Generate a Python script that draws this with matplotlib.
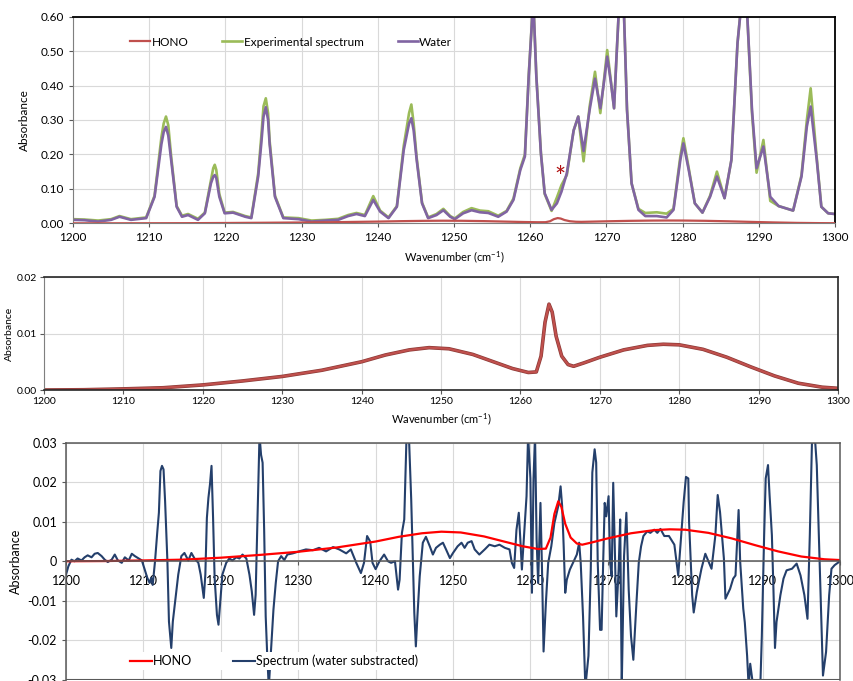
import numpy as np
import matplotlib.pyplot as plt

plt.rcParams['font.family'] = ['Lato', 'DejaVu Sans']
plt.rcParams['mathtext.default'] = 'regular'

# ---- top panel: experimental spectrum and water reference ----
wn_top = [1200, 1201.5, 1203.3, 1205, 1206.1, 1207.6, 1209.6, 1210.7, 1211.6, 1211.9, 1212.2, 1212.5,
          1212.9, 1213.6, 1214.3, 1215.1, 1216.4, 1217.3, 1218.1, 1218.4, 1218.6, 1218.8, 1219.2,
          1219.9, 1221.0,
          1222.6, 1223.4, 1224.3, 1224.7, 1225.0, 1225.3, 1225.6, 1225.8, 1226.5, 1227.6, 1229.6,
          1231.3, 1233.1, 1234.8, 1236.1, 1237.2, 1238.3, 1239.4, 1240.3, 1241.4, 1242.5, 1243.4,
          1244.1, 1244.4, 1244.7, 1245.1, 1245.8, 1246.6, 1247.7, 1248.6, 1249.5, 1250.1, 1251.2,
          1252.3, 1253.4, 1254.5, 1255.8, 1256.9, 1257.8, 1258.7, 1259.3, 1259.8, 1260.4, 1260.8,
          1261.4, 1261.9, 1262.8, 1263.5, 1264.1, 1264.8, 1265.7, 1266.3, 1267.0, 1267.8, 1268.5,
          1269.2, 1269.6, 1270.1, 1270.6, 1271.0, 1271.3, 1271.7, 1272.2, 1272.7, 1273.3, 1274.2,
          1275.1, 1276.6, 1277.9, 1278.8, 1279.7, 1280.1, 1280.8, 1281.6, 1282.6, 1283.6, 1284.5,
          1285.5, 1286.4, 1287.2, 1287.8, 1288.4, 1289.1, 1289.7, 1290.6, 1291.5, 1292.6, 1294.5,
          1295.6, 1296.3, 1296.8, 1297.6, 1298.2, 1299.1, 1300]
water = [0.010, 0.009, 0.005, 0.010, 0.019, 0.010, 0.015, 0.077, 0.23, 0.265, 0.28, 0.255,
         0.18, 0.048, 0.019, 0.024, 0.010, 0.029, 0.116, 0.135, 0.14, 0.132, 0.077,
         0.029, 0.031,
         0.019, 0.015, 0.136, 0.23, 0.31, 0.337, 0.30, 0.23, 0.077, 0.015, 0.012,
         0.005, 0.008, 0.010, 0.021, 0.027, 0.021, 0.068, 0.034, 0.015, 0.048, 0.213,
         0.29, 0.305, 0.27, 0.184, 0.058, 0.015, 0.024, 0.038, 0.019, 0.012, 0.029,
         0.038, 0.032, 0.030, 0.019, 0.034, 0.068, 0.155, 0.194, 0.426, 0.65, 0.426,
         0.203, 0.087, 0.039, 0.058, 0.092, 0.145, 0.27, 0.31, 0.21, 0.33, 0.42,
         0.334, 0.397, 0.484, 0.407, 0.334, 0.474, 0.65, 0.68, 0.33, 0.116, 0.039,
         0.021, 0.021, 0.017, 0.039, 0.184, 0.232, 0.155, 0.058, 0.031, 0.077, 0.136,
         0.073, 0.184, 0.523, 0.66, 0.64, 0.33, 0.16, 0.223, 0.077, 0.05, 0.037,
         0.136, 0.281, 0.339, 0.184, 0.048, 0.029, 0.027]
experimental = [0.012, 0.011, 0.008, 0.012, 0.021, 0.012, 0.017, 0.080, 0.25, 0.29, 0.31, 0.285,
                0.19, 0.050, 0.022, 0.027, 0.013, 0.031, 0.125, 0.16, 0.17, 0.155, 0.085,
                0.031, 0.033,
                0.021, 0.017, 0.145, 0.25, 0.34, 0.363, 0.32, 0.24, 0.080, 0.017, 0.015,
                0.008, 0.010, 0.013, 0.024, 0.030, 0.024, 0.079, 0.037, 0.017, 0.050, 0.225,
                0.32, 0.345, 0.29, 0.19, 0.060, 0.017, 0.027, 0.042, 0.021, 0.014, 0.033,
                0.044, 0.037, 0.035, 0.022, 0.036, 0.072, 0.16, 0.20, 0.43, 0.65, 0.43,
                0.205, 0.085, 0.036, 0.075, 0.111, 0.14, 0.27, 0.31, 0.18, 0.34, 0.44,
                0.32, 0.40, 0.503, 0.41, 0.334, 0.474, 0.65, 0.68, 0.33, 0.116, 0.042,
                0.030, 0.032, 0.028, 0.042, 0.195, 0.247, 0.16, 0.058, 0.031, 0.080, 0.15,
                0.073, 0.184, 0.523, 0.66, 0.64, 0.32, 0.147, 0.242, 0.065, 0.05, 0.037,
                0.14, 0.30, 0.392, 0.19, 0.048, 0.029, 0.027]

# ---- HONO reference cross-section ----
wn_hono = [1200, 1205, 1210, 1215, 1220, 1225, 1230, 1235, 1240, 1243, 1246, 1248.5, 1251,
           1254, 1257, 1259, 1261, 1262, 1262.6, 1263.1, 1263.6, 1264.0, 1264.5, 1265.2, 1266,
           1266.7, 1268, 1270, 1273, 1276, 1278, 1280, 1283, 1286, 1289, 1292, 1295, 1298, 1300]
hono = [0.0, 0.00005, 0.0002, 0.0004, 0.0009, 0.0016, 0.0024, 0.0035, 0.0050, 0.0062, 0.0071,
        0.0075, 0.0073, 0.0063, 0.0048, 0.0038, 0.0031, 0.0032, 0.0060, 0.0120, 0.0152, 0.0138,
        0.0095, 0.0060, 0.0045, 0.0042, 0.0048, 0.0058, 0.0071, 0.0079, 0.0081, 0.0080, 0.0072,
        0.0058, 0.0041, 0.0025, 0.0012, 0.0005, 0.0003]

# ---- bottom panel: spectrum with water subtracted ----
subtracted = [
    (1200.0, -0.0034), (1200.3, -0.0013), (1200.7, 0.0004), (1201.1, 0.0), (1201.5, 0.0007),
    (1202.0, 0.0002), (1202.4, 0.001), (1202.8, 0.0015), (1203.3, 0.001), (1203.7, 0.0019),
    (1204.1, 0.0021), (1204.6, 0.0013), (1205.0, 0.0004), (1205.4, -0.0002), (1205.9, 0.0004),
    (1206.3, 0.0017), (1206.7, 0.0002), (1207.2, -0.0004), (1207.6, 0.001), (1208.1, 0.0002),
    (1208.5, 0.0019), (1208.9, 0.0013), (1209.4, 0.0007), (1209.8, 0.0002), (1210.1, -0.0017),
    (1210.5, -0.0042), (1210.8, -0.0055), (1211.0, -0.0042), (1211.2, -0.006), (1211.5, 0.0),
    (1211.8, 0.0076), (1212.0, 0.0123), (1212.2, 0.0229), (1212.4, 0.0242), (1212.6, 0.0233),
    (1212.8, 0.0153), (1213.1, 0.0), (1213.3, -0.0153), (1213.6, -0.022), (1213.8, -0.0153),
    (1214.0, -0.0119), (1214.5, -0.0034), (1214.9, 0.0013), (1215.3, 0.0021), (1215.8, 0.0002),
    (1216.2, 0.0021), (1216.6, 0.0007), (1217.1, -0.0004), (1217.4, -0.0034), (1217.8, -0.0093),
    (1218.0, -0.0034), (1218.2, 0.011), (1218.4, 0.0161), (1218.6, 0.0195), (1218.8, 0.0242),
    (1219.0, 0.011), (1219.2, -0.0042), (1219.5, -0.0136), (1219.7, -0.0161), (1219.9, -0.011),
    (1220.2, -0.0034), (1220.7, -0.0004), (1221.1, 0.0007), (1221.5, 0.0002), (1222.0, 0.001),
    (1222.4, 0.0007), (1222.8, 0.0017), (1223.3, 0.0007), (1223.7, -0.0034), (1224.0, -0.0076),
    (1224.3, -0.0136), (1224.5, -0.0085), (1224.8, 0.0153), (1225.0, 0.032), (1225.2, 0.027),
    (1225.4, 0.025), (1225.6, 0.008), (1225.8, -0.014), (1226.0, -0.024), (1226.2, -0.032),
    (1226.5, -0.022), (1226.8, -0.0123), (1227.1, -0.0055), (1227.4, 0.0), (1227.8, 0.0013),
    (1228.2, 0.0003), (1228.6, 0.0017), (1229.3, 0.002), (1230.1, 0.0025), (1231.0, 0.003),
    (1231.9, 0.0028), (1232.7, 0.0034), (1233.6, 0.0025), (1234.5, 0.0036), (1235.3, 0.003),
    (1236.2, 0.002), (1236.8, 0.003), (1237.5, -0.0004), (1238.1, -0.003), (1238.5, -0.0004),
    (1238.9, 0.0064), (1239.3, 0.005), (1239.6, -0.0004), (1240.0, -0.002), (1240.5, 0.0),
    (1241.1, 0.0017), (1241.6, 0.0), (1242.0, -0.0004), (1242.5, 0.0), (1242.9, -0.0072),
    (1243.1, -0.0047), (1243.4, 0.0072), (1243.7, 0.0106), (1244.0, 0.032), (1244.3, 0.032),
    (1244.6, 0.0157), (1244.8, 0.0013), (1245.0, -0.0131), (1245.2, -0.0216), (1245.4, -0.014),
    (1245.7, -0.0038), (1246.1, 0.0047), (1246.5, 0.0062), (1247.0, 0.0038), (1247.4, 0.0017),
    (1247.8, 0.0034), (1248.3, 0.0042), (1248.7, 0.0047), (1249.1, 0.003), (1249.6, 0.0008),
    (1250.0, 0.0021), (1250.6, 0.0038), (1251.1, 0.0047), (1251.5, 0.0034), (1251.9, 0.0047),
    (1252.4, 0.0051), (1252.8, 0.003), (1253.4, 0.0017), (1254.1, 0.003), (1254.7, 0.0042),
    (1255.4, 0.0038), (1256.0, 0.0042), (1256.7, 0.0034), (1257.3, 0.003), (1257.6, -0.0004),
    (1257.9, -0.0017), (1258.2, 0.008), (1258.5, 0.0123), (1258.7, 0.0055), (1258.9, -0.0021),
    (1259.2, 0.0072), (1259.5, 0.0165), (1259.7, 0.032), (1260.0, 0.021), (1260.2, -0.008),
    (1260.4, 0.0208), (1260.6, 0.032), (1260.8, 0.0055), (1261.0, -0.0055), (1261.3, 0.0148),
    (1261.5, -0.0021), (1261.7, -0.0229), (1262.0, -0.0106), (1262.3, -0.0004), (1262.7, 0.0038),
    (1263.1, 0.0097), (1263.6, 0.014), (1263.9, 0.019), (1264.1, 0.014), (1264.3, 0.0038),
    (1264.5, -0.008), (1264.7, -0.0047), (1265.1, -0.0021), (1265.5, -0.0004), (1266.0, 0.0017),
    (1266.3, 0.0047), (1266.5, -0.0004), (1266.8, -0.014), (1267.1, -0.032), (1267.5, -0.024),
    (1267.8, -0.0021), (1268.0, 0.0225), (1268.3, 0.0284), (1268.5, 0.025), (1268.7, -0.0004),
    (1269.0, -0.0174), (1269.2, -0.0174), (1269.4, -0.0004), (1269.6, 0.0148), (1269.8, 0.0114),
    (1270.1, 0.0165), (1270.3, -0.0004), (1270.5, -0.0038), (1270.7, 0.0199), (1270.9, 0.0038),
    (1271.1, -0.014), (1271.4, -0.0021), (1271.6, 0.0106), (1271.8, -0.032), (1272.1, 0.0013),
    (1272.4, 0.0123), (1272.7, -0.0072), (1273.0, -0.019), (1273.3, -0.025), (1273.7, -0.0106),
    (1274.0, -0.0004), (1274.3, 0.0038), (1274.6, 0.0064), (1275.1, 0.0076), (1275.5, 0.0072),
    (1276.0, 0.008), (1276.4, 0.0072), (1276.8, 0.0082), (1277.3, 0.0064), (1277.9, 0.0064),
    (1278.6, 0.0042), (1279.1, -0.0036), (1279.8, 0.015), (1280.1, 0.0214), (1280.4, 0.021),
    (1280.5, 0.01), (1280.9, -0.0086), (1281.1, -0.013), (1281.5, -0.0078), (1282.1, -0.0019),
    (1282.6, 0.0019), (1283.0, 0.0), (1283.4, -0.0019), (1283.9, 0.0066), (1284.2, 0.0168),
    (1284.5, 0.0125), (1285.0, 0.0007), (1285.2, -0.0095), (1285.8, -0.007), (1286.2, -0.0044),
    (1286.5, -0.0036), (1286.9, 0.013), (1287.1, 0.0), (1287.5, -0.012), (1287.7, -0.0155),
    (1288.0, -0.024), (1288.2, -0.032), (1288.4, -0.026), (1288.8, -0.032), (1289.4, -0.032),
    (1289.7, -0.032), (1289.9, -0.019), (1290.2, 0.0066), (1290.4, 0.021), (1290.7, 0.0244),
    (1290.9, 0.0168), (1291.2, 0.0066), (1291.4, -0.007), (1291.6, -0.022), (1291.8, -0.0154),
    (1292.3, -0.0086), (1292.7, -0.0044), (1293.1, -0.0023), (1293.8, -0.0019), (1294.4, -0.0006),
    (1294.9, -0.0036), (1295.4, -0.0086), (1295.8, -0.0146), (1296.1, 0.0066), (1296.4, 0.032),
    (1296.7, 0.033), (1297.0, 0.0244), (1297.4, -0.0019), (1297.8, -0.029), (1298.2, -0.023),
    (1298.6, -0.0086), (1298.9, -0.0019), (1299.3, -0.001), (1300.0, 0.0),
]
wn_sub, abs_sub = np.array(subtracted).T

x_ticks = np.arange(1200, 1301, 10)
grid_col = '#d9d9d9'
xlabel = 'Wavenumber (cm$^{-1}$)'

fig = plt.figure(figsize=(8.54, 6.81), dpi=100)

# ---------------- top panel ----------------
ax1 = fig.add_axes([0.0855, 0.6721, 0.8923, 0.3034])
h_hono, = ax1.plot(wn_hono, hono, color='#c0504d', lw=1.6, label='HONO', zorder=3)
h_exp, = ax1.plot(wn_top, experimental, color='#9bbb59', lw=1.9, label='Experimental spectrum')
h_wat, = ax1.plot(wn_top, water, color='#8064a2', lw=1.9, label='Water')
ax1.text(1263.9, 0.13, '*', color='#b01010', fontsize=19, ha='center', va='center')
ax1.set_xlim(1200, 1300)
ax1.set_ylim(0, 0.6)
ax1.set_xticks(x_ticks)
ax1.set_yticks(np.arange(0, 0.61, 0.1))
ax1.set_yticklabels(['%.2f' % v for v in np.arange(0, 0.61, 0.1)])
ax1.grid(True, color=grid_col, lw=0.8)
ax1.set_axisbelow(True)
ax1.tick_params(labelsize=8.5, length=3, color='#595959')
ax1.set_xlabel(xlabel, fontsize=8)
ax1.set_ylabel('Absorbance', fontsize=8.5, labelpad=8)
for s in ['top', 'right']:
    ax1.spines[s].set_color('black')
    ax1.spines[s].set_linewidth(1.3)
for s in ['left', 'bottom']:
    ax1.spines[s].set_color('#7f7f7f')
ax1.legend(handles=[h_hono, h_exp, h_wat], loc='center left', bbox_to_anchor=(0.075, 0.877),
           ncol=3, frameon=False, fontsize=8.5, handlelength=1.7, handletextpad=0.1,
           columnspacing=2.9, borderpad=0, borderaxespad=0)

# ---------------- middle panel ----------------
ax2 = fig.add_axes([0.0515, 0.4273, 0.9298, 0.1659])
ax2.plot(wn_hono, hono, color='#8c3a36', lw=2.6)
ax2.plot(wn_hono, hono, color='#c0504d', lw=1.6)
ax2.set_xlim(1200, 1300)
ax2.set_ylim(0, 0.02)
ax2.set_xticks(x_ticks)
ax2.set_yticks([0, 0.01, 0.02])
ax2.set_yticklabels(['0.00', '0.01', '0.02'])
ax2.grid(True, color=grid_col, lw=0.8)
ax2.set_axisbelow(True)
ax2.tick_params(labelsize=7.5, length=3, pad=2, color='#595959')
ax2.set_xlabel(xlabel, fontsize=8)
ax2.set_ylabel('Absorbance', fontsize=7.5, labelpad=2)
for s in ['top', 'right', 'bottom']:
    ax2.spines[s].set_color('#262626')
    ax2.spines[s].set_linewidth(1.2)
ax2.spines['left'].set_color('#7f7f7f')

# ---------------- bottom panel ----------------
ax3 = fig.add_axes([0.0773, 0.0022, 0.9063, 0.3473])
h_sub, = ax3.plot(wn_sub, abs_sub, color='#243f6b', lw=1.5, label='Spectrum (water substracted)')
h_red, = ax3.plot(wn_hono, hono, color='#ff0000', lw=1.6, label='HONO')
ax3.set_xlim(1200, 1300)
ax3.set_ylim(-0.03, 0.03)
ax3.set_xticks(x_ticks)
ax3.set_yticks([0.03, 0.02, 0.01, 0, -0.01, -0.02, -0.03])
ax3.set_yticklabels(['0.03', '0.02', '0.01', '0', '-0.01', '-0.02', '-0.03'])
ax3.grid(True, color=grid_col, lw=0.8)
ax3.set_axisbelow(True)
ax3.spines['bottom'].set_position(('data', 0))
ax3.axhline(-0.03, color='#595959', lw=1.5)
for s in ['top', 'right', 'left', 'bottom']:
    ax3.spines[s].set_color('#595959')
    ax3.spines[s].set_linewidth(1.1)
ax3.tick_params(axis='x', labelsize=9, length=3, pad=7, color='#595959')
ax3.tick_params(axis='y', labelsize=9, length=3, color='#595959')
ax3.set_ylabel('Absorbance', fontsize=9, labelpad=4)
ax3.legend(handles=[h_red, h_sub], loc='center left', bbox_to_anchor=(0.08, 0.078), ncol=2,
           fontsize=9, handlelength=1.7, handletextpad=0.1, columnspacing=3.3,
           frameon=True, facecolor='white', edgecolor='none', framealpha=1,
           borderpad=0.2, borderaxespad=0)

fig.savefig('out.png', dpi=100)
